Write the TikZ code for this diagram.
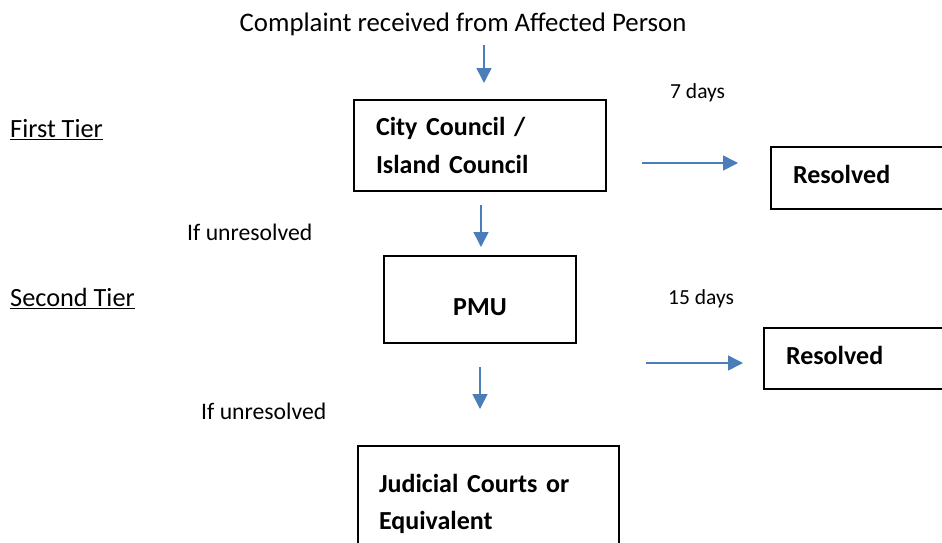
\documentclass[tikz,border=0pt]{standalone}
\usepackage{fontspec}
\setmainfont{Carlito}
\usetikzlibrary{arrows.meta}
\definecolor{arrowblue}{HTML}{4A7EBB}
\tikzset{
  x=1pt, y=-1pt,
  flowarrow/.style={draw=arrowblue, line width=1.5pt, -{Triangle[length=15pt,width=15pt]}},
  box/.style={draw=black, line width=2pt, rectangle, anchor=north west, inner ysep=0pt,
              font=\fontsize{26}{37}\selectfont\bfseries, align=left},
  tier/.style={inner sep=0pt, anchor=base west, font=\fontsize{26.3}{30}\selectfont},
  plain/.style={inner sep=0pt, anchor=base west, font=\fontsize{23.7}{28}\selectfont},
  small/.style={inner sep=0pt, anchor=base west, font=\fontsize{21.5}{25}\selectfont},
}
\begin{document}
\begin{tikzpicture}
\useasboundingbox (0,0) rectangle (942,542);
\clip (0,0) rectangle (942,542);
% title
\node[inner sep=0pt, anchor=base, font=\fontsize{26.8}{31}\selectfont] (title) at (463,31) {Complaint received from Affected Person};
% tier labels
\node[tier] (tier1) at (10,137.5) {\underline{First Tier}};
\node[tier] (tier2) at (10,306.5) {\underline{Second Tier}};
\node[plain] (unres1) at (187,240) {If unresolved};
\node[plain] (unres2) at (201,419.5) {If unresolved};
\node[small] (days7) at (670,98.5) {7 days};
\node[small] (days15) at (668,304) {15 days};
% boxes
\node[box, minimum width=252pt, minimum height=91pt, text width=208pt, inner xsep=22pt, font=\fontsize{26}{38}\selectfont\bfseries] (city) at (353,99) {City Council /\\Island Council};
\node[box, minimum width=192pt, minimum height=87pt, text width=192pt, inner xsep=0pt, align=center, text height=32pt, text depth=0pt] (pmu) at (383,255) {PMU};
\node[box, minimum width=261pt, minimum height=116pt, text width=219pt, inner xsep=21pt] (court) at (357,445) {Judicial Courts or\\Equivalent};
\node[box, minimum width=200pt, minimum height=62pt, text width=178pt, inner xsep=22pt, text height=18pt, text depth=7.4pt] (res1) at (770,146) {Resolved};
\node[box, minimum width=200pt, minimum height=61pt, text width=178pt, inner xsep=22pt, text height=18pt, text depth=5.5pt] (res2) at (763,327) {Resolved};
% arrow end points
\coordinate (a1s) at (484,45);  \coordinate (a1e) at (484,83);
\coordinate (a2s) at (481,205); \coordinate (a2e) at (481,247);
\coordinate (a3s) at (480,367); \coordinate (a3e) at (480,409);
\coordinate (r1s) at (642,163); \coordinate (r1e) at (738,163);
\coordinate (r2s) at (646,363); \coordinate (r2e) at (743,363);
\draw[flowarrow] (a1s) -- (a1e);
\draw[flowarrow] (a2s) -- (a2e);
\draw[flowarrow] (a3s) -- (a3e);
\draw[flowarrow] (r1s) -- (r1e);
\draw[flowarrow] (r2s) -- (r2e);
\end{tikzpicture}
\end{document}
